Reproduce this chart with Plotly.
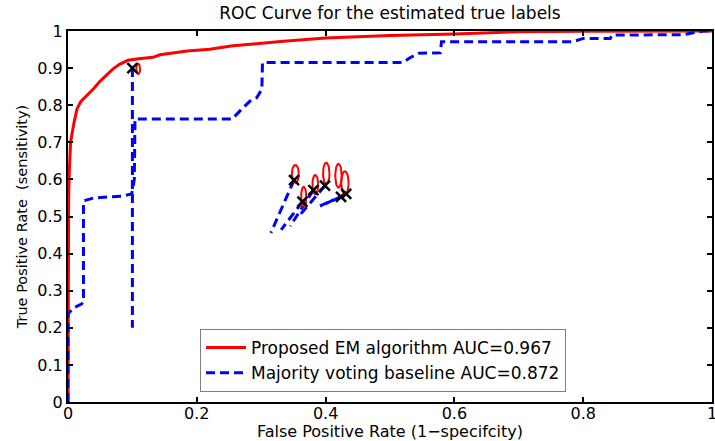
import numpy as np
import plotly.graph_objects as go

# ---------------- data ----------------
red_x = [0, 0, 0.001, 0.002, 0.004, 0.009, 0.014, 0.020, 0.029, 0.040, 0.050, 0.060,
         0.070, 0.080, 0.093, 0.110, 0.132, 0.143, 0.165, 0.185, 0.220, 0.256, 0.288,
         0.330, 0.400, 0.450, 0.500, 0.600, 0.650, 0.700, 0.800, 1.0]
red_y = [0, 0.40, 0.55, 0.62, 0.70, 0.75, 0.79, 0.81, 0.825, 0.845, 0.865, 0.882,
         0.898, 0.910, 0.921, 0.925, 0.929, 0.936, 0.941, 0.946, 0.951, 0.960, 0.965,
         0.972, 0.981, 0.985, 0.988, 0.992, 0.995, 0.998, 0.999, 1.0]

blue_x = [0, 0, 0.008, 0.021, 0.024, 0.024, 0.040, 0.085, 0.099, 0.103, 0.104, 0.125,
          0.255, 0.270, 0.285, 0.293, 0.301, 0.302, 0.520, 0.531, 0.545, 0.578, 0.580,
          0.784, 0.800, 0.842, 0.845, 0.955, 0.986, 1.0]
blue_y = [0, 0.237, 0.253, 0.264, 0.270, 0.542, 0.550, 0.555, 0.561, 0.600, 0.763, 0.763,
          0.763, 0.790, 0.815, 0.820, 0.843, 0.915, 0.915, 0.928, 0.940, 0.941, 0.971,
          0.971, 0.980, 0.980, 0.989, 0.990, 1.0, 1.0]

# individual annotators (black crosses)
ann_x = [0.100, 0.351, 0.364, 0.381, 0.399, 0.424, 0.432]
ann_y = [0.900, 0.598, 0.540, 0.571, 0.583, 0.553, 0.561]
# end points of the dashed segments drawn from each annotator
seg_x = [0.100, 0.315, 0.331, 0.345, 0.360, 0.384, 0.392]
seg_y = [0.200, 0.456, 0.464, 0.474, 0.504, 0.523, 0.528]

# red uncertainty ellipses
ell_cx = [0.109, 0.353, 0.366, 0.384, 0.401, 0.420, 0.430]
ell_cy = [0.898, 0.615, 0.554, 0.586, 0.616, 0.610, 0.591]
ell_rx = [0.003, 0.0054, 0.0040, 0.0045, 0.0050, 0.0050, 0.0057]
ell_ry = [0.014, 0.024, 0.026, 0.026, 0.029, 0.032, 0.031]

x_ticks = [0, 0.2, 0.4, 0.6, 0.8, 1]
x_tick_text = ["0", "0.2", "0.4", "0.6", "0.8", "1"]
y_ticks = [0, 0.1, 0.2, 0.3, 0.4, 0.5, 0.6, 0.7, 0.8, 0.9, 1]
y_tick_text = ["0", "0.1", "0.2", "0.3", "0.4", "0.5", "0.6", "0.7", "0.8", "0.9", "1"]

red_name = "Proposed EM algorithm AUC=0.967"
blue_name = "Majority voting baseline AUC=0.872"

# ---------------- figure ----------------
FONT = "DejaVu Sans"
RED = "#ff0000"
BLUE = "#0000ff"

fig = go.Figure()

fig.add_trace(go.Scatter(x=red_x, y=red_y, mode="lines", name=red_name,
                         line=dict(color=RED, width=3)))
fig.add_trace(go.Scatter(x=blue_x, y=blue_y, mode="lines", name=blue_name,
                         line=dict(color=BLUE, width=3, dash="9px,5px")))

for ax, ay, sx, sy in zip(ann_x, ann_y, seg_x, seg_y):
    fig.add_trace(go.Scatter(x=[ax, sx], y=[ay, sy], mode="lines", showlegend=False,
                             line=dict(color=BLUE, width=3, dash="9px,5px"),
                             hoverinfo="skip"))

t = np.linspace(0, 2 * np.pi, 60)
for cx, cy, rx, ry in zip(ell_cx, ell_cy, ell_rx, ell_ry):
    fig.add_trace(go.Scatter(x=cx + rx * np.cos(t), y=cy + ry * np.sin(t), mode="lines",
                             showlegend=False, line=dict(color=RED, width=2),
                             hoverinfo="skip"))

fig.add_trace(go.Scatter(x=ann_x, y=ann_y, mode="markers", showlegend=False,
                         marker=dict(symbol="x-thin", size=10, color="black",
                                     line=dict(width=2.5, color="black"))))

axis_common = dict(showline=True, linecolor="black", linewidth=2, mirror="ticks",
                   ticks="inside", ticklen=5, tickwidth=1.5, tickcolor="black",
                   showgrid=False, zeroline=False, automargin=False,
                   ticklabeloverflow="allow",
                   tickfont=dict(family=FONT, size=16, color="black"))

fig.update_xaxes(range=[0, 1], tickvals=x_ticks, ticktext=x_tick_text,
                 ticklabelstandoff=-4,
                 title=dict(text="False Positive Rate (1\u2212specifcity)",
                            font=dict(family=FONT, size=16, color="black"), standoff=2),
                 **axis_common)
fig.update_yaxes(range=[0, 1], tickvals=y_ticks, ticktext=y_tick_text,
                 title=dict(text="True Positive Rate \u00a0(sensitivity)",
                            font=dict(family=FONT, size=14.5, color="black"), standoff=6),
                 **axis_common)

fig.update_layout(
    width=715, height=441,
    margin=dict(l=68, r=3, t=31, b=39),
    paper_bgcolor="white", plot_bgcolor="white",
    font=dict(family=FONT, color="black"),
    title=dict(text="ROC Curve for the estimated true labels", x=0.5, xref="paper",
               y=1 - 13 / 441, yref="container", yanchor="middle", xanchor="center",
               font=dict(family=FONT, size=17, color="black")),
    legend=dict(x=0.205, y=0.027, xanchor="left", yanchor="bottom",
                bgcolor="white", bordercolor="#7f7f7f", borderwidth=1,
                font=dict(family=FONT, size=17, color="black"),
                tracegroupgap=0, itemwidth=40),
    showlegend=True,
)

fig.write_html("out.html", config={"displayModeBar": False},
               post_script="document.body.style.margin='0';document.body.style.overflow='hidden';")
